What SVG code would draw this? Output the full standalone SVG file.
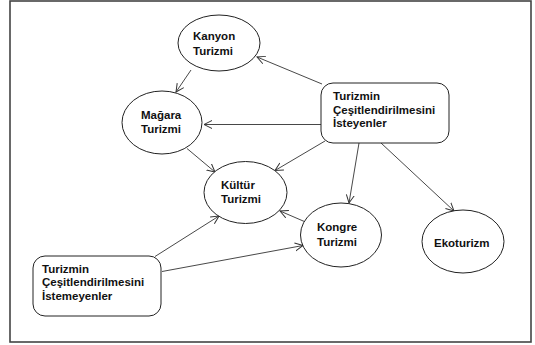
<svg xmlns="http://www.w3.org/2000/svg" width="535" height="345" viewBox="0 0 535 345">
<style>
.node ellipse,.node rect{fill:#fff;stroke:#222;stroke-width:1}
.t{font-family:"Liberation Sans",Arial,sans-serif;font-weight:bold;font-size:11.5px;fill:#111}
.c line{stroke:#333;stroke-width:0.9;marker-end:url(#a)}
</style>
<defs>
<marker id="a" markerUnits="userSpaceOnUse" markerWidth="10" markerHeight="10" refX="8" refY="4" orient="auto" viewBox="0 0 10 8">
<path d="M0,0 L8,4 L0,8" fill="none" stroke="#333" stroke-width="1"/>
</marker>
</defs>
<rect x="0" y="0" width="535" height="345" fill="#fff"/>
<rect x="10" y="1" width="521" height="341" fill="none" stroke="#444" stroke-width="1.6"/>
<g class="c">
<line x1="191" y1="70" x2="176" y2="92"/>
<line x1="322" y1="84" x2="257" y2="57"/>
<line x1="321" y1="124.5" x2="204" y2="124.5"/>
<line x1="325" y1="141" x2="275" y2="170.5"/>
<line x1="359" y1="143" x2="349" y2="203"/>
<line x1="381" y1="143" x2="454" y2="211"/>
<line x1="187" y1="148.5" x2="215" y2="172"/>
<line x1="305.5" y1="222" x2="280" y2="211"/>
<line x1="155" y1="256.5" x2="219" y2="216"/>
<line x1="162" y1="271.5" x2="303" y2="245.5"/>
</g>
<g id="kanyon" class="node"><ellipse cx="219" cy="43" rx="41" ry="28"/><text class="t" x="193" y="40">Kanyon</text><text class="t" x="193" y="54.5">Turizmi</text></g>
<g id="magara" class="node"><ellipse cx="162" cy="122.5" rx="40" ry="31.5"/><text class="t" x="141" y="118.5">Mağara</text><text class="t" x="141" y="133">Turizmi</text></g>
<g id="kultur" class="node"><ellipse cx="245.5" cy="192.5" rx="41.5" ry="31"/><text class="t" x="221" y="188.5">Kültür</text><text class="t" x="221" y="203">Turizmi</text></g>
<g id="kongre" class="node"><ellipse cx="341" cy="235" rx="40.5" ry="32"/><text class="t" x="317" y="231">Kongre</text><text class="t" x="317" y="245.5">Turizmi</text></g>
<g id="ekoturizm" class="node"><ellipse cx="463" cy="241.5" rx="41" ry="31.5"/><text class="t" x="434" y="247">Ekoturizm</text></g>
<g id="isteyenler" class="node"><rect x="321" y="83" width="128" height="60" rx="12"/><text class="t" x="333" y="100">Turizmin</text><text class="t" x="333" y="113.5">Çeşitlendirilmesini</text><text class="t" x="333" y="127">İsteyenler</text></g>
<g id="istemeyenler" class="node"><rect x="33" y="256" width="128" height="60" rx="12"/><text class="t" x="42" y="272.5">Turizmin</text><text class="t" x="42" y="286">Çeşitlendirilmesini</text><text class="t" x="42" y="299.5">İstemeyenler</text></g>
</svg>
